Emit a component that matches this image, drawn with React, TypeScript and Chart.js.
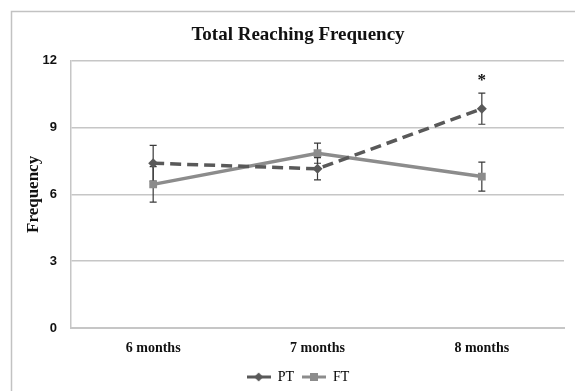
import React, { useEffect, useRef } from "react";
import { Chart, registerables } from "chart.js";

Chart.register(...registerables);

const categories = ["6 months", "7 months", "8 months"];
const ptValues = [7.4, 7.15, 9.85];
const ptErrors = [0.8, 0.5, 0.7];
const ftValues = [6.45, 7.85, 6.8];
const ftErrors = [0.8, 0.45, 0.65];
const ptSignificance = ["", "", "*"];
const yTicks = [0, 3, 6, 9, 12];

const PT_COLOR = "#595959";
const FT_COLOR = "#8c8c8c";

function makeLegendIcon(color: string, marker: "diamond" | "square") {
  const c = document.createElement("canvas");
  c.width = 24;
  c.height = 10;
  const ctx = c.getContext("2d")!;
  ctx.strokeStyle = color;
  ctx.lineWidth = 3;
  ctx.beginPath();
  ctx.moveTo(0, 5);
  ctx.lineTo(24, 5);
  ctx.stroke();
  ctx.fillStyle = color;
  if (marker === "diamond") {
    ctx.beginPath();
    ctx.moveTo(12, 0.5);
    ctx.lineTo(16.5, 5);
    ctx.lineTo(12, 9.5);
    ctx.lineTo(7.5, 5);
    ctx.closePath();
    ctx.fill();
  } else {
    ctx.fillRect(8, 1, 8, 8);
  }
  return c;
}

const frameAndErrors = {
  id: "frameAndErrors",
  beforeDraw(chart: any) {
    const ctx = chart.ctx;
    ctx.save();
    ctx.fillStyle = "#ffffff";
    ctx.fillRect(0, 0, chart.width, chart.height);
    ctx.strokeStyle = "#c2c2c2";
    ctx.lineWidth = 1.5;
    ctx.strokeRect(11.5, 11.5, chart.width + 20, chart.height + 20);
    ctx.restore();
  },
  beforeDatasetsDraw(chart: any) {
    const ctx = chart.ctx;
    const y = chart.scales.y;
    const sets = [
      { values: ptValues, errors: ptErrors, idx: 0 },
      { values: ftValues, errors: ftErrors, idx: 1 },
    ];
    ctx.save();
    ctx.strokeStyle = "#3a3a3a";
    ctx.lineWidth = 1.2;
    sets.forEach((s) => {
      const meta = chart.getDatasetMeta(s.idx);
      s.values.forEach((v, i) => {
        const x = meta.data[i].x;
        const top = y.getPixelForValue(v + s.errors[i]);
        const bot = y.getPixelForValue(v - s.errors[i]);
        ctx.beginPath();
        ctx.moveTo(x, top);
        ctx.lineTo(x, bot);
        ctx.moveTo(x - 3.5, top);
        ctx.lineTo(x + 3.5, top);
        ctx.moveTo(x - 3.5, bot);
        ctx.lineTo(x + 3.5, bot);
        ctx.stroke();
      });
    });
    ctx.restore();
  },
  afterDatasetsDraw(chart: any) {
    const ctx = chart.ctx;
    const y = chart.scales.y;
    const meta = chart.getDatasetMeta(0);
    ctx.save();
    ctx.fillStyle = "#111";
    ctx.font = "bold 17px 'Liberation Serif'";
    ctx.textAlign = "center";
    ctx.textBaseline = "middle";
    ptSignificance.forEach((s, i) => {
      if (!s) return;
      const x = meta.data[i].x;
      const top = y.getPixelForValue(ptValues[i] + ptErrors[i]);
      ctx.fillText(s, x, top - 12);
    });
    ctx.restore();
  },
};

export default function App() {
  const ref = useRef<HTMLCanvasElement | null>(null);
  useEffect(() => {
    document.body.style.margin = "0";
    const ptIcon = makeLegendIcon(PT_COLOR, "diamond");
    const ftIcon = makeLegendIcon(FT_COLOR, "square");
    const chart = new Chart(ref.current!, {
      type: "line",
      data: {
        labels: categories,
        datasets: [
          {
            label: "PT",
            data: ptValues,
            borderColor: PT_COLOR,
            backgroundColor: PT_COLOR,
            borderWidth: 3.5,
            borderDash: [11, 6],
            pointStyle: "rectRot",
            pointRadius: 5,
            pointBorderWidth: 0,
            tension: 0,
          },
          {
            label: "FT",
            data: ftValues,
            borderColor: FT_COLOR,
            backgroundColor: FT_COLOR,
            borderWidth: 3.5,
            pointStyle: "rect",
            pointRadius: 5.5,
            pointBorderWidth: 0,
            tension: 0,
          },
        ],
      },
      options: {
        responsive: false,
        animation: false,
        layout: { padding: { left: 32, right: 11, top: 0, bottom: 0 } },
        plugins: {
          title: {
            display: true,
            text: "Total Reaching Frequency",
            color: "#111",
            font: { family: "'Liberation Serif'", size: 19, weight: "bold" },
            padding: { top: 24, bottom: 14 },
          },
          legend: {
            display: true,
            position: "bottom",
            maxHeight: 29,
            labels: {
              usePointStyle: true,
              pointStyleWidth: 24,
              color: "#222",
              font: { family: "'Liberation Serif'", size: 14 },
              padding: 8,
              generateLabels: () => [
                { text: "PT", pointStyle: ptIcon as any, datasetIndex: 0, fillStyle: PT_COLOR, strokeStyle: PT_COLOR, lineWidth: 0, hidden: false } as any,
                { text: "FT", pointStyle: ftIcon as any, datasetIndex: 1, fillStyle: FT_COLOR, strokeStyle: FT_COLOR, lineWidth: 0, hidden: false } as any,
              ],
            },
          },
          tooltip: { enabled: false },
        },
        scales: {
          x: {
            offset: true,
            grid: { display: false, drawTicks: false },
            border: { display: true, color: "#c6c6c6", width: 2 },
            ticks: {
              color: "#111",
              padding: 12,
              font: { family: "'Liberation Serif'", size: 14, weight: "bold" },
            },
            afterFit: (s: any) => {
              s.height = 34;
            },
          },
          y: {
            min: 0,
            max: 12,
            afterBuildTicks: (s: any) => {
              s.ticks = yTicks.map((v) => ({ value: v }));
            },
            grid: { color: "#c6c6c6", lineWidth: 1.5, drawTicks: false },
            border: { display: true, color: "#c6c6c6", width: 1.5 },
            ticks: {
              color: "#111",
              padding: 14,
              font: { family: "'Liberation Sans'", size: 13, weight: "bold" },
            },
            title: {
              display: true,
              text: "Frequency",
              color: "#111",
              font: { family: "'Liberation Serif'", size: 17, weight: "bold" },
              padding: { top: -9, bottom: 0 },
            },
            afterFit: (s: any) => {
              s.width = 39;
            },
          },
        },
      },
      plugins: [frameAndErrors],
    });
    return () => chart.destroy();
  }, []);
  return <canvas ref={ref} width={575} height={391} style={{ display: "block" }} />;
}
